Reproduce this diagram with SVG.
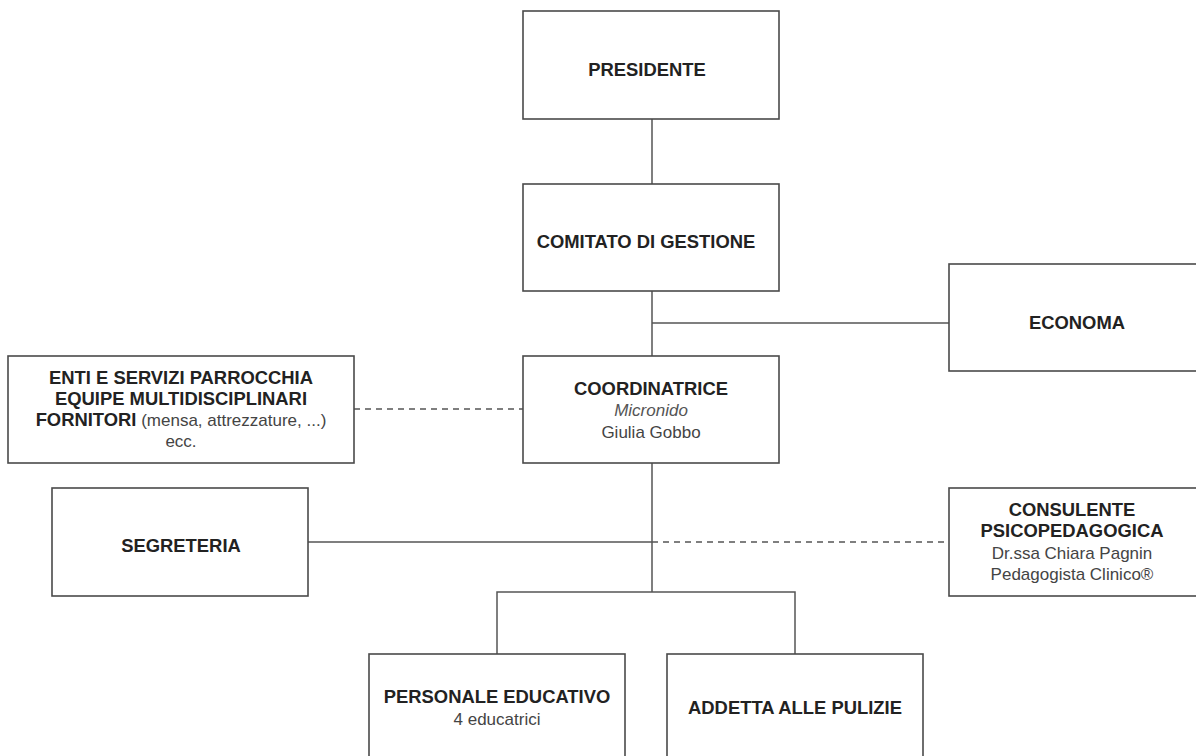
<svg xmlns="http://www.w3.org/2000/svg" width="1196" height="756" viewBox="0 0 1196 756">
<style>
.box{fill:#fff;stroke:#4a4a4a;stroke-width:1.6}
.ln{fill:none;stroke:#555;stroke-width:1.5}
.dash{stroke-dasharray:6 5}
text{font-family:"Liberation Sans",Arial,Helvetica,sans-serif;font-size:17px;text-anchor:middle;fill:#333}
.b{font-weight:bold;fill:#222;font-size:18.4px}
.i{font-style:italic;fill:#555}
.r{fill:#444;font-size:17px;font-weight:normal}
</style>
<rect width="1196" height="756" fill="#fff"/>
<g id="connectors">
<path class="ln" d="M652 119V184"/>
<path class="ln" d="M652 291V356M652 323H949"/>
<path class="ln dash" d="M354 409H523"/>
<path class="ln" d="M652 463V592M308 542H652"/>
<path class="ln dash" d="M652 542H949"/>
<path class="ln" d="M497 654V592H795V654"/>
</g>
<g id="presidente"><rect class="box" x="523" y="11" width="256" height="108"/><text class="b" x="647" y="76">PRESIDENTE</text></g>
<g id="comitato"><rect class="box" x="523" y="184" width="256" height="107"/><text class="b" x="646" y="248">COMITATO DI GESTIONE</text></g>
<g id="economa"><rect class="box" x="949" y="264" width="260" height="107"/><text class="b" x="1077" y="329">ECONOMA</text></g>
<g id="coordinatrice"><rect class="box" x="523" y="356" width="256" height="107"/>
<text class="b" x="651" y="395">COORDINATRICE</text>
<text class="i" x="651" y="416">Micronido</text>
<text class="r" x="651" y="438">Giulia Gobbo</text></g>
<g id="enti"><rect class="box" x="8" y="356" width="346" height="107"/>
<text class="b" x="181" y="384">ENTI E SERVIZI PARROCCHIA</text>
<text class="b" x="181" y="405">EQUIPE MULTIDISCIPLINARI</text>
<text x="181" y="426"><tspan class="b">FORNITORI</tspan><tspan class="r"> (mensa, attrezzature, ...)</tspan></text>
<text class="r" x="181" y="447">ecc.</text></g>
<g id="segreteria"><rect class="box" x="52" y="488" width="256" height="108"/><text class="b" x="181" y="552">SEGRETERIA</text></g>
<g id="consulente"><rect class="box" x="949" y="488" width="260" height="108"/>
<text class="b" x="1072" y="516">CONSULENTE</text>
<text class="b" x="1072" y="537">PSICOPEDAGOGICA</text>
<text class="r" x="1072" y="559">Dr.ssa Chiara Pagnin</text>
<text class="r" x="1072" y="580">Pedagogista Clinico®</text></g>
<g id="personale"><rect class="box" x="369" y="654" width="256" height="110"/>
<text class="b" x="497" y="703">PERSONALE EDUCATIVO</text>
<text class="r" x="497" y="725">4 educatrici</text></g>
<g id="addetta"><rect class="box" x="667" y="654" width="256" height="110"/>
<text class="b" x="795" y="714">ADDETTA ALLE PULIZIE</text></g>
</svg>
